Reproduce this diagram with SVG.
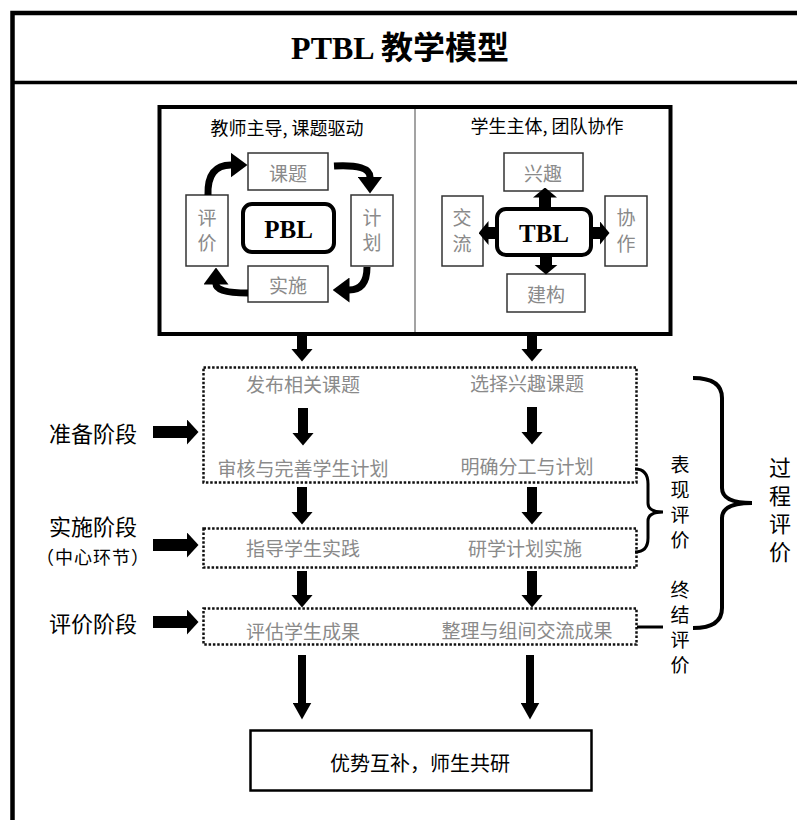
<svg xmlns="http://www.w3.org/2000/svg" width="797" height="820" viewBox="0 0 797 820">
<style>
.t{font-family:"Noto Sans CJK SC","Liberation Sans",sans-serif;dominant-baseline:central;text-anchor:middle}
.v{font-family:"Noto Sans CJK SC","Liberation Sans",sans-serif;writing-mode:vertical-rl;fill:#000}
.g{fill:#8a8a8a;font-size:19px}
.k{fill:#000}
.sb{fill:#fff;stroke:#333;stroke-width:1.5}
.dot{fill:none;stroke:#111;stroke-width:2.5;stroke-dasharray:2.5 1.8}
.ba{stroke:#000;stroke-width:10;fill:none}
.br{fill:none;stroke:#000;stroke-linecap:butt}
.lat{font-family:"Liberation Serif","Noto Sans CJK SC",serif;font-weight:bold;dominant-baseline:central;text-anchor:middle}
</style>
<defs>
<marker id="ah" markerUnits="userSpaceOnUse" markerWidth="13" markerHeight="22" viewBox="0 0 13 22" refX="0.5" refY="11" orient="auto"><path d="M0,0 L13,11 L0,22 Z" fill="#000"/></marker>
<marker id="ah2" markerUnits="userSpaceOnUse" markerWidth="12" markerHeight="26" viewBox="0 0 12 26" refX="0.5" refY="13" orient="auto"><path d="M0,0 L12,13 L0,26 Z" fill="#000"/></marker>
<marker id="ah3" markerUnits="userSpaceOnUse" markerWidth="17" markerHeight="19" viewBox="0 0 17 19" refX="0.5" refY="9.5" orient="auto"><path d="M0,0 L17,9.5 L0,19 Z" fill="#000"/></marker>
<marker id="ah4" markerUnits="userSpaceOnUse" markerWidth="10" markerHeight="24" viewBox="0 0 10 24" refX="0.5" refY="12" orient="auto"><path d="M0,0 L10,12 L0,24 Z" fill="#000"/></marker>
<marker id="ch" markerUnits="userSpaceOnUse" markerWidth="17" markerHeight="25" viewBox="0 0 17 25" refX="0.5" refY="12.5" orient="auto"><path d="M0,0 L17,12.5 L0,25 Z" fill="#000"/></marker>
</defs>
<rect width="797" height="820" fill="#fff"/>
<g id="frame">
<path d="M12.5 820 V13 H800" fill="none" stroke="#000" stroke-width="4.5"/>
<line x1="12" y1="82.5" x2="800" y2="82.5" stroke="#000" stroke-width="3.5"/>
<text class="lat" x="400" y="48" font-size="32">PTBL 教学模型</text>
</g>
<g id="top-box">
<rect x="159.5" y="107" width="511" height="227" fill="#fff" stroke="#000" stroke-width="4"/>
<line x1="415" y1="109" x2="415" y2="332" stroke="#666" stroke-width="1.2"/>
<text class="t k" x="287" y="127" font-size="18">教师主导, 课题驱动</text>
<text class="t k" x="547" y="125" font-size="18">学生主体, 团队协作</text>
</g>
<g id="pbl">
<rect class="sb" x="248" y="153" width="80" height="37"/>
<text class="t g" x="288" y="172">课题</text>
<rect class="sb" x="186" y="195" width="42" height="71"/>
<text class="v" x="207" y="208.5" font-size="19" letter-spacing="6" style="fill:#8a8a8a">评价</text>
<rect class="sb" x="351" y="195" width="42" height="71"/>
<text class="v" x="372" y="208.5" font-size="19" letter-spacing="6" style="fill:#8a8a8a">计划</text>
<rect class="sb" x="248" y="266" width="80" height="36"/>
<text class="t g" x="288" y="284">实施</text>
<rect x="243" y="204" width="91" height="48" rx="9" fill="#fff" stroke="#000" stroke-width="4"/>
<text class="lat" x="288.5" y="229" font-size="25">PBL</text>
</g>
<g id="tbl">
<rect class="sb" x="504" y="153" width="79" height="38"/>
<text class="t g" x="543" y="172">兴趣</text>
<rect class="sb" x="442" y="196" width="41" height="70"/>
<text class="v" x="462" y="208.5" font-size="19" letter-spacing="7" style="fill:#8a8a8a">交流</text>
<rect class="sb" x="605" y="196" width="42" height="70"/>
<text class="v" x="626" y="208.5" font-size="19" letter-spacing="7" style="fill:#8a8a8a">协作</text>
<rect class="sb" x="507" y="274" width="78" height="38"/>
<text class="t g" x="546" y="293">建构</text>
<rect x="497" y="209" width="94" height="46" rx="9" fill="#fff" stroke="#000" stroke-width="4"/>
<text class="lat" x="544" y="233" font-size="25">TBL</text>
</g>
<g id="prep">
<rect class="dot" x="203.5" y="367.5" width="433" height="115"/>
<text class="t g" x="303" y="383">发布相关课题</text>
<text class="t g" x="527" y="382">选择兴趣课题</text>
<text class="t g" x="303" y="467">审核与完善学生计划</text>
<text class="t g" x="527" y="465">明确分工与计划</text>
</g>
<g id="impl">
<rect class="dot" x="203.5" y="528.5" width="433" height="39"/>
<text class="t g" x="303" y="547">指导学生实践</text>
<text class="t g" x="525" y="547">研学计划实施</text>
</g>
<g id="eval">
<rect class="dot" x="203.5" y="608.5" width="433" height="36"/>
<text class="t g" x="303" y="630">评估学生成果</text>
<text class="t g" x="527" y="629">整理与组间交流成果</text>
</g>
<g id="result">
<rect x="250.5" y="730.5" width="341" height="60" fill="#fff" stroke="#000" stroke-width="2.5"/>
<text class="t k" x="420" y="762" font-size="20">优势互补，师生共研</text>
</g>
<g id="stage-labels">
<text class="t k" x="93" y="432" font-size="22">准备阶段</text>
<text class="t k" x="93" y="525" font-size="22">实施阶段</text>
<text class="t k" x="93" y="556" font-size="18" letter-spacing="1">（中心环节）</text>
<text class="t k" x="93" y="622" font-size="22">评价阶段</text>
</g>
<g id="eval-labels">
<text class="v" x="680" y="455.5" font-size="19" letter-spacing="6">表现评价</text>
<text class="v" x="680" y="580.5" font-size="19" letter-spacing="6">终结评价</text>
<text class="v" x="780" y="457" font-size="22" letter-spacing="6">过程评价</text>
</g>
<g id="connectors">
<path d="M208 195 Q207 165 231 165" fill="none" stroke="#000" stroke-width="7" marker-end="url(#ch)"/>
<path d="M334 166 Q370 164 370 177" fill="none" stroke="#000" stroke-width="7" marker-end="url(#ch)"/>
<path d="M367 267 Q367 290 349 290" fill="none" stroke="#000" stroke-width="7" marker-end="url(#ch)"/>
<path d="M248 293 Q216 293 216 284" fill="none" stroke="#000" stroke-width="7" marker-end="url(#ch)"/>
<line x1="545" y1="209" x2="545" y2="197" stroke="#000" stroke-width="12" marker-end="url(#ah4)"/>
<line x1="497" y1="233" x2="488" y2="233" stroke="#000" stroke-width="12" marker-end="url(#ah4)"/>
<line x1="591" y1="233" x2="600" y2="233" stroke="#000" stroke-width="12" marker-end="url(#ah4)"/>
<line x1="546" y1="255" x2="546" y2="265" stroke="#000" stroke-width="12" marker-end="url(#ah4)"/>
<line class="ba" x1="302" y1="336" x2="302" y2="349" marker-end="url(#ah)"/>
<line class="ba" x1="532" y1="336" x2="532" y2="349" marker-end="url(#ah)"/>
<line class="ba" x1="303" y1="408" x2="303" y2="433" marker-end="url(#ah)"/>
<line class="ba" x1="532" y1="407" x2="532" y2="432" marker-end="url(#ah)"/>
<line class="ba" x1="302" y1="487" x2="302" y2="512" marker-end="url(#ah)"/>
<line class="ba" x1="532" y1="487" x2="532" y2="512" marker-end="url(#ah)"/>
<line class="ba" x1="302" y1="571" x2="302" y2="595" marker-end="url(#ah)"/>
<line class="ba" x1="532" y1="571" x2="532" y2="595" marker-end="url(#ah)"/>
<line x1="302" y1="655" x2="302" y2="703" stroke="#000" stroke-width="8" marker-end="url(#ah3)"/>
<line x1="530" y1="655" x2="530" y2="703" stroke="#000" stroke-width="8" marker-end="url(#ah3)"/>
<line x1="153" y1="432" x2="187" y2="432" stroke="#000" stroke-width="12" marker-end="url(#ah2)"/>
<line x1="153" y1="545" x2="187" y2="545" stroke="#000" stroke-width="12" marker-end="url(#ah2)"/>
<line x1="153" y1="622" x2="187" y2="622" stroke="#000" stroke-width="12" marker-end="url(#ah2)"/>
<path class="br" stroke-width="4" d="M693 378 Q722 378 722 398 L722 488 Q722 503 752 503 Q722 503 722 518 L722 608 Q722 628 693 628"/>
<path class="br" stroke-width="3" d="M635 469 Q648 469 648 484 L648 503 Q648 512 663 512 Q648 512 648 521 L648 538 Q648 552 635 552"/>
<line x1="637" y1="627" x2="663" y2="627" stroke="#000" stroke-width="3"/>
</g>
</svg>
